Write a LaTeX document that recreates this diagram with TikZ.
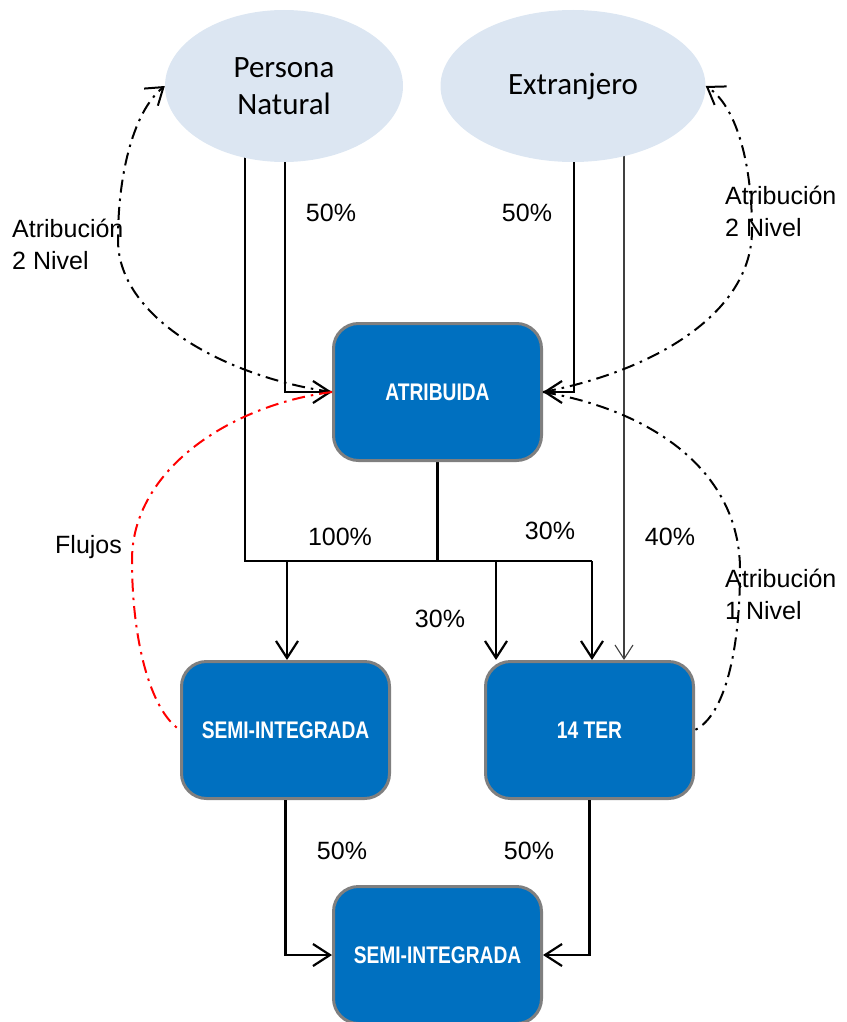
\documentclass[tikz,border=0pt]{standalone}
\usepackage{fontspec}
\setmainfont{Liberation Sans}
\newfontfamily\ellfont{Carlito}
\newfontfamily\boxfont[FakeStretch=0.8]{Liberation Sans}
\usetikzlibrary{arrows.meta,shapes.geometric}
\definecolor{boxblue}{HTML}{0070C0}
\definecolor{boxgray}{HTML}{7F7F7F}
\definecolor{ellblue}{HTML}{DCE6F2}
\pgfdeclarelayer{background}
\pgfsetlayers{background,main}
\tikzset{
  ent/.style={ellipse,fill=ellblue,inner sep=0pt,font=\ellfont\fontsize{31}{37}\selectfont,align=center},
  company/.style={rectangle,rounded corners=25pt,fill=boxblue,draw=boxgray,line width=3pt,
    minimum width=208pt,minimum height=137pt,inner sep=0pt,text=white,
    font=\boxfont\bfseries\fontsize{24}{28}\selectfont},
  flow/.style={line width=2.2pt,draw=black},
  thinflow/.style={line width=1.1pt,draw=black!75},
  tip/.style={-{Straight Barb[length=17pt,width=22pt,line width=2.2pt]}},
  thintip/.style={-{Straight Barb[length=14pt,width=18pt,line width=1.1pt]}},
  attr/.style={line width=2pt,dash pattern=on 13pt off 6pt on 2.5pt off 6pt},
  attrtip/.style={-{Straight Barb[length=16pt,width=22pt,line width=2pt]}},
  lbl/.style={font=\fontsize{25}{31}\selectfont,inner sep=0pt},
  side/.style={font=\fontsize{25}{32}\selectfont,inner sep=0pt,align=left,anchor=west}
}
\begin{document}
\begin{tikzpicture}[x=1pt,y=-1pt]
\useasboundingbox (0,0) rectangle (846,1022);
% nodes
\node[ent,minimum width=238pt,minimum height=152pt] (pn) at (284,86) {Persona\\Natural};
\node[ent,minimum width=265pt,minimum height=152pt] (ex) at (573,86) {Extranjero};
\node[company] (atr) at (437.5,392) {ATRIBUIDA};
\node[company] (semi) at (285.5,730) {SEMI-INTEGRADA};
\node[company] (ter) at (589.5,730) {14 TER};
\node[company] (bot) at (437.5,955) {SEMI-INTEGRADA};
% coordinates
\coordinate (pnA) at (245,86);
\coordinate (pnB) at (285,86);
\coordinate (exA) at (574,86);
\coordinate (exB) at (624,86);
\coordinate (busL) at (245,561);
\coordinate (busR) at (592,561);
\coordinate (busS) at (287,561);
\coordinate (busM) at (496,561);
\coordinate (busA) at (437.5,561);
\begin{pgfonlayer}{background}
\draw[flow] (pnA) -- (busL) -- (busR);
\draw[flow,tip] (busR) -- (busR |- ter.north);
\draw[flow,tip] (busS) -- (busS |- semi.north);
\draw[flow,tip] (busM) -- (busM |- ter.north);
\draw[flow] (atr.south) -- (busA);
\draw[flow,tip] (pnB) |- (atr.west);
\draw[flow,tip] (exA) |- (atr.east);
\draw[thinflow,thintip] (exB) -- (exB |- ter.north);
\end{pgfonlayer}
\draw[flow,tip] (semi.south) |- (bot.west);
\draw[flow,tip] (ter.south) |- (bot.east);
% attribution curves
\draw[attr,attrtip] (atr.west) .. controls (230,378) and (118,320) .. (118,240) .. controls (118,170) and (135,110) .. (pn.west);
\draw[attr,attrtip] (atr.east) .. controls (650,372) and (752,315) .. (752,230) .. controls (752,160) and (735,105) .. (ex.east);
\draw[attr] (atr.east) .. controls (650,410) and (740,470) .. (740,570) .. controls (740,650) and (725,715) .. (ter.east);
\draw[attr,red] (atr.west) .. controls (230,405) and (132,470) .. (132,560) .. controls (132,640) and (150,710) .. (semi.west);
% labels
\node[lbl] (l1) at (331,213) {50\%};
\node[lbl] (l2) at (527,213) {50\%};
\node[lbl] (l3) at (340,537) {100\%};
\node[lbl] (l4) at (550,531) {30\%};
\node[lbl] (l5) at (440,619) {30\%};
\node[lbl] (l6) at (670,537) {40\%};
\node[lbl] (l7) at (342,851) {50\%};
\node[lbl] (l8) at (529,851) {50\%};
\node[side] (s1) at (12,244) {Atribución\\2 Nivel};
\node[side] (s2) at (725,211) {Atribución\\2 Nivel};
\node[side] (s3) at (725,594) {Atribución\\1 Nivel};
\node[side] (s4) at (55,547) {Flujos};
\end{tikzpicture}
\end{document}
